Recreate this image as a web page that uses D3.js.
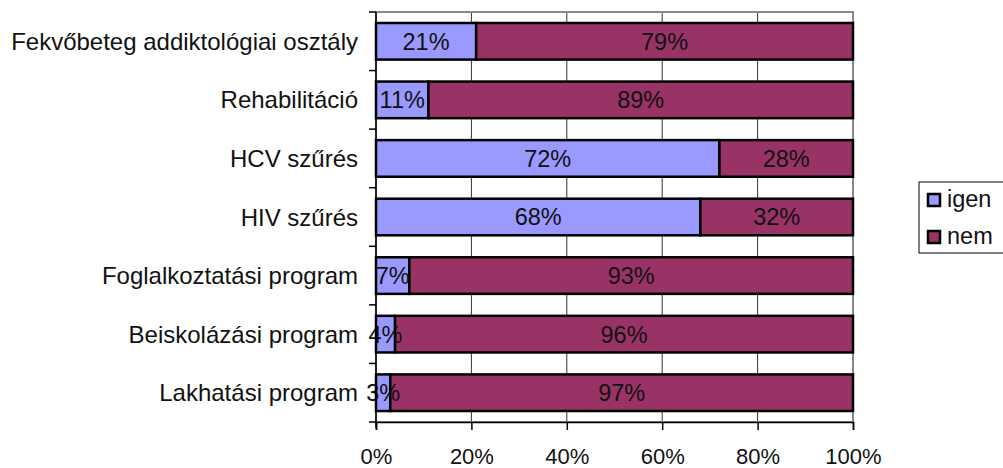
<!DOCTYPE html>
<html>
<head>
<meta charset="utf-8">
<script src="https://cdn.jsdelivr.net/npm/d3@7"></script>
<style>
  body { margin: 0; background: #fff; }
  text { font-family: "Liberation Sans", Arial, sans-serif; }
</style>
</head>
<body>
<svg id="chart" width="1003" height="468"></svg>
<script>
var categories = [
  "Fekvőbeteg addiktológiai osztály",
  "Rehabilitáció",
  "HCV szűrés",
  "HIV szűrés",
  "Foglalkoztatási program",
  "Beiskolázási program",
  "Lakhatási program"
];
var igenValues = [21, 11, 72, 68, 7, 4, 3];
var nemValues = [79, 89, 28, 32, 93, 96, 97];
var seriesNames = ["igen", "nem"];
var seriesColors = ["#9999ff", "#993366"];
var xTicks = [0, 20, 40, 60, 80, 100];

var plot = { left: 376, right: 853, top: 12, bottom: 422 };
var FONT = 23.5;

var svg = d3.select("#chart");

var x = d3.scaleLinear().domain([0, 100]).range([plot.left, plot.right]);
var y = d3.scaleBand().domain(categories).range([plot.top, plot.bottom]).paddingInner(0.375).paddingOuter(0.1875);

// gridlines
svg.append("g").selectAll("line")
  .data(xTicks.slice(1))
  .enter().append("line")
  .attr("x1", d => x(d)).attr("x2", d => x(d))
  .attr("y1", plot.top).attr("y2", plot.bottom)
  .attr("stroke", "#333").attr("stroke-width", 1);

// plot border (top/right gray)
svg.append("rect")
  .attr("x", plot.left).attr("y", plot.top)
  .attr("width", plot.right - plot.left).attr("height", plot.bottom - plot.top)
  .attr("fill", "none").attr("stroke", "#888").attr("stroke-width", 2);

var rows = categories.map((c, i) => ({ cat: c, vals: [igenValues[i], nemValues[i]] }));

var barG = svg.append("g");
rows.forEach(function(r) {
  var start = 0;
  r.vals.forEach(function(v, si) {
    var x0 = x(start), x1 = x(start + v);
    barG.append("rect")
      .attr("x", x0).attr("y", y(r.cat))
      .attr("width", x1 - x0).attr("height", y.bandwidth())
      .attr("fill", seriesColors[si])
      .attr("stroke", "#000").attr("stroke-width", 2.5);
    start += v;
  });
});

// value labels
rows.forEach(function(r) {
  var start = 0;
  r.vals.forEach(function(v) {
    svg.append("text")
      .attr("x", x(start + v / 2))
      .attr("y", y(r.cat) + y.bandwidth() / 2)
      .attr("dy", "0.36em")
      .attr("text-anchor", "middle")
      .attr("font-size", FONT)
      .attr("fill", "#111")
      .text(v + "%");
    start += v;
  });
});

// left axis line + ticks at category boundaries
svg.append("line")
  .attr("x1", plot.left).attr("x2", plot.left)
  .attr("y1", plot.top).attr("y2", plot.bottom + 6)
  .attr("stroke", "#000").attr("stroke-width", 1.5);
var step = (plot.bottom - plot.top) / categories.length;
svg.append("g").selectAll("line")
  .data(d3.range(categories.length + 1))
  .enter().append("line")
  .attr("x1", plot.left - 7).attr("x2", plot.left)
  .attr("y1", d => plot.top + d * step).attr("y2", d => plot.top + d * step)
  .attr("stroke", "#000").attr("stroke-width", 1.5);

// category labels
svg.append("g").selectAll("text")
  .data(categories)
  .enter().append("text")
  .attr("x", plot.left - 18)
  .attr("y", d => y(d) + y.bandwidth() / 2)
  .attr("dy", "0.36em")
  .attr("text-anchor", "end")
  .attr("font-size", 24)
  .attr("fill", "#111")
  .text(d => d);

// bottom axis
var xAxis = d3.axisBottom(x).tickValues(xTicks).tickSize(8).tickFormat(d => d + "%");
var ax = svg.append("g")
  .attr("transform", "translate(0," + plot.bottom + ")")
  .call(xAxis);
ax.select(".domain").attr("stroke", "#000").attr("stroke-width", 1.5);
ax.selectAll(".tick line").attr("stroke", "#000").attr("stroke-width", 1.5);
ax.selectAll(".tick text")
  .attr("y", 26)
  .attr("font-size", 22)
  .attr("font-family", "Liberation Sans, Arial, sans-serif")
  .attr("fill", "#111");

// legend
var legend = svg.append("g").attr("transform", "translate(919,182)");
legend.append("rect")
  .attr("width", 90).attr("height", 71)
  .attr("fill", "#fff").attr("stroke", "#000").attr("stroke-width", 1);
seriesNames.forEach(function(n, i) {
  legend.append("rect")
    .attr("x", 9).attr("y", 12 + i * 37)
    .attr("width", 12).attr("height", 12)
    .attr("fill", seriesColors[i]).attr("stroke", "#000").attr("stroke-width", 2.5);
  legend.append("text")
    .attr("x", 28).attr("y", 18 + i * 37)
    .attr("dy", "0.3em")
    .attr("font-size", FONT)
    .attr("fill", "#111")
    .text(n);
});
</script>
</body>
</html>
